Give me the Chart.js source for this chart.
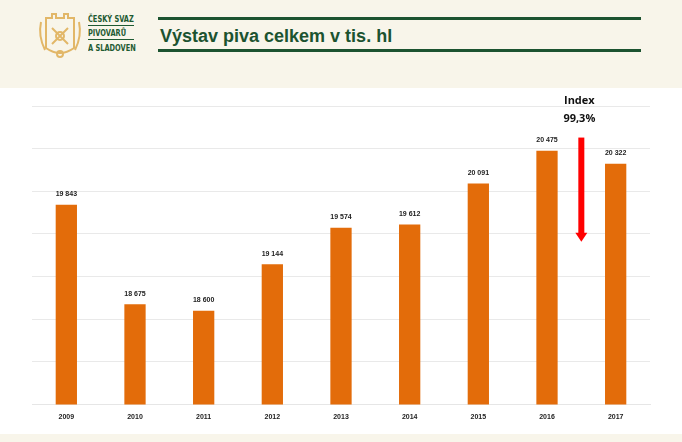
<!DOCTYPE html>
<html>
<head>
<meta charset="utf-8">
<script src="https://cdn.jsdelivr.net/npm/chart.js@4"></script>
<style>
  body { margin: 0; width: 682px; height: 442px; background: #f8f5ea; position: relative; overflow: hidden; font-family: "Liberation Sans", Arial, sans-serif; }
  #logo { position: absolute; left: 36px; top: 10px; }
  .org { position: absolute; left: 88px; font-family: "Liberation Sans Narrow", "DejaVu Sans Condensed", sans-serif; font-weight: bold; font-size: 9px; color: #1e5a32; line-height: 10px; transform: scaleX(0.82); transform-origin: left top; white-space: nowrap; }
  .orgline { position: absolute; left: 88px; width: 46px; height: 1px; background: #1e5a32; }
  .tline { position: absolute; left: 158px; width: 483px; height: 3px; background: #1c5330; }
  #title { position: absolute; left: 160px; top: 26px; font-size: 18px; font-weight: bold; color: #1c5330; white-space: nowrap; }
  #panel { position: absolute; left: 0; top: 88px; width: 682px; height: 346px; background: #ffffff; }
</style>
</head>
<body>
<svg id="logo" width="48" height="48" viewBox="0 0 48 48">
  <g fill="none" stroke="#e2b768" stroke-width="2">
    <path d="M10 8 h6 v-4 h4 v4 h8 v-4 h4 v4 h6 v30 q-14 10 -28 0 z"/>
    <path d="M5 12 q-3 14 4 28"/>
    <path d="M43 12 q3 14 -4 28"/>
    <path d="M16 18 l16 16 M32 18 l-16 16"/>
    <circle cx="24" cy="26" r="4"/>
    <circle cx="24" cy="44" r="3"/>
  </g>
</svg>
<div class="org" style="top:14px">ČESKÝ SVAZ</div>
<div class="orgline" style="top:25px"></div>
<div class="org" style="top:28px">PIVOVARŮ</div>
<div class="orgline" style="top:39px"></div>
<div class="org" style="top:43px">A SLADOVEN</div>
<div class="tline" style="top:17px"></div>
<div id="title">Výstav piva celkem v tis. hl</div>
<div class="tline" style="top:49px"></div>
<div id="panel"><canvas id="myChart" width="682" height="346"></canvas></div>
<script>
// Data
var years = ['2009', '2010', '2011', '2012', '2013', '2014', '2015', '2016', '2017'];
var output = [19843, 18675, 18600, 19144, 19574, 19612, 20091, 20475, 20322];
var indexLabel = ['Index', '99,3%'];

function fmt(v) {
    return String(v).replace(/\B(?=(\d{3})+(?!\d))/g, ' ');
}

// labels above bars + index arrow
var extras = {
    id: 'extras',
    afterDatasetsDraw: function(chart) {
        var ctx = chart.ctx;
        var meta = chart.getDatasetMeta(0);
        ctx.save();
        ctx.fillStyle = '#222';
        ctx.font = 'bold 7px "Liberation Sans", Arial, sans-serif';
        ctx.textAlign = 'center';
        ctx.textBaseline = 'bottom';
        meta.data.forEach(function(bar, i) {
            ctx.fillText(fmt(output[i]), bar.x, bar.y - 7);
        });

        var x = chart.scales.x.getPixelForValue(7.5);
        var y = chart.scales.y;
        var top = y.getPixelForValue(20630);
        var tip = y.getPixelForValue(19410);
        ctx.fillStyle = '#ff0000';
        ctx.fillRect(x - 3, top, 6, tip - top - 8);
        ctx.beginPath();
        ctx.moveTo(x - 6, tip - 9);
        ctx.lineTo(x + 6, tip - 9);
        ctx.lineTo(x, tip);
        ctx.closePath();
        ctx.fill();

        ctx.fillStyle = '#111';
        ctx.font = 'bold 11px "Open Sans", "DejaVu Sans", sans-serif';
        ctx.textBaseline = 'middle';
        ctx.fillText(indexLabel[0], x - 2, 13);
        ctx.fillText(indexLabel[1], x - 2, 31);
        ctx.restore();
    }
};

var ctx = document.getElementById('myChart').getContext('2d');
new Chart(ctx, {
    type: 'bar',
    data: {
        labels: years,
        datasets: [{
            data: output,
            backgroundColor: '#e36c0a',
            categoryPercentage: 1,
            barPercentage: 0.31
        }]
    },
    plugins: [extras],
    options: {
        responsive: false,
        animation: false,
        layout: { padding: { left: 32, right: 32, top: 18, bottom: 5 } },
        plugins: { legend: { display: false }, tooltip: { enabled: false } },
        scales: {
            x: {
                grid: { display: false, drawTicks: false },
                border: { color: '#e6e6e6' },
                ticks: { color: '#222', font: { size: 7, weight: 'bold', family: '"Liberation Sans", Arial, sans-serif' }, padding: 8 }
            },
            y: {
                display: true,
                min: 17500,
                max: 21000,
                ticks: { stepSize: 500, display: false },
                grid: { color: '#e9e9e9', drawTicks: false },
                border: { display: false }
            }
        }
    }
});
</script>
</body>
</html>
